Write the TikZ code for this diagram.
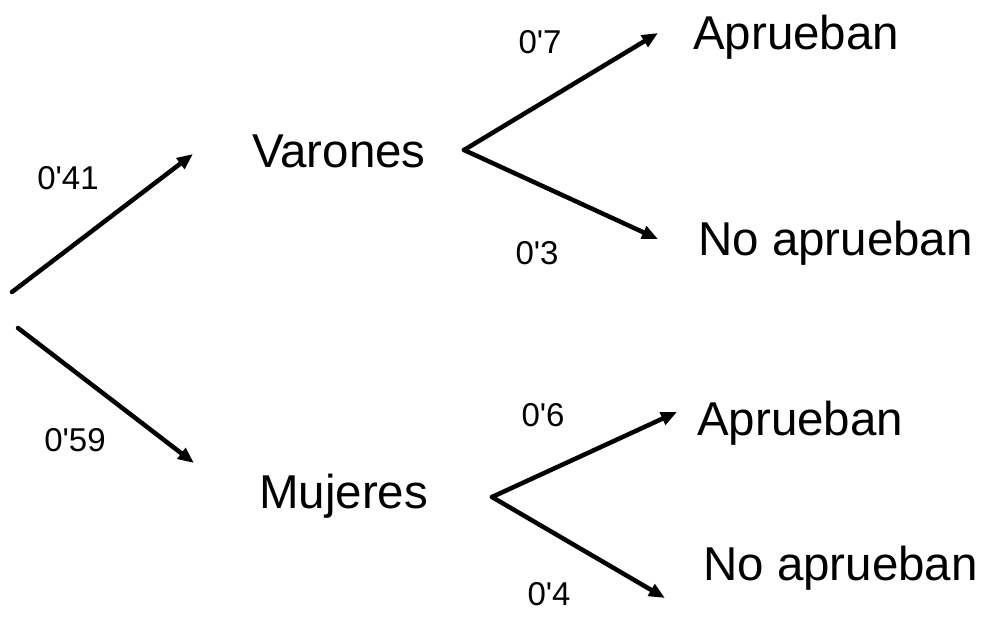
\documentclass[tikz,border=0pt]{standalone}
\usepackage{fontspec}
\setmainfont{Liberation Sans}
\usetikzlibrary{arrows.meta}
\tikzset{
  big/.style={inner sep=0pt, anchor=base west, font=\fontsize{47.5}{56}\selectfont},
  prob/.style={inner sep=0pt, anchor=center, font=\fontsize{33}{40}\selectfont},
  arr/.style={line width=4.5pt, line cap=round, -{Triangle[length=16pt,width=13pt]}}
}
\begin{document}
\begin{tikzpicture}[x=1pt,y=-1pt]
\useasboundingbox (0,0) rectangle (985,616);
% text nodes
\node[big] (V) at (252,167) {Varones};
\node[big] (M) at (259,508) {Mujeres};
\node[big] (VA) at (693,49) {Aprueban};
\node[big] (VN) at (698,255) {No aprueban};
\node[big] (MA) at (697,435) {Aprueban};
\node[big] (MN) at (703,580) {No aprueban};
% probability labels
\node[prob] (p41) at (68,178) {0\textquotesingle 41};
\node[prob] (p59) at (75,440) {0\textquotesingle 59};
\node[prob] (p7) at (540,42) {0\textquotesingle 7};
\node[prob] (p3) at (537,253) {0\textquotesingle 3};
\node[prob] (p6) at (543,415) {0\textquotesingle 6};
\node[prob] (p4) at (549,594) {0\textquotesingle 4};
% connector points
\coordinate (r1) at (12,292);
\coordinate (r2) at (18,328);
\coordinate (vin) at (193,154);
\coordinate (min) at (194,463);
\coordinate (vout) at (464,150);
\coordinate (mout) at (492,497);
\coordinate (vain) at (658,33);
\coordinate (vnin) at (658,239);
\coordinate (main) at (677,412);
\coordinate (mnin) at (665,598);
% connectors
\draw[arr] (r1) -- (vin);
\draw[arr] (r2) -- (min);
\draw[arr] (vout) -- (vain);
\draw[arr] (vout) -- (vnin);
\draw[arr] (mout) -- (main);
\draw[arr] (mout) -- (mnin);
\end{tikzpicture}
\end{document}
